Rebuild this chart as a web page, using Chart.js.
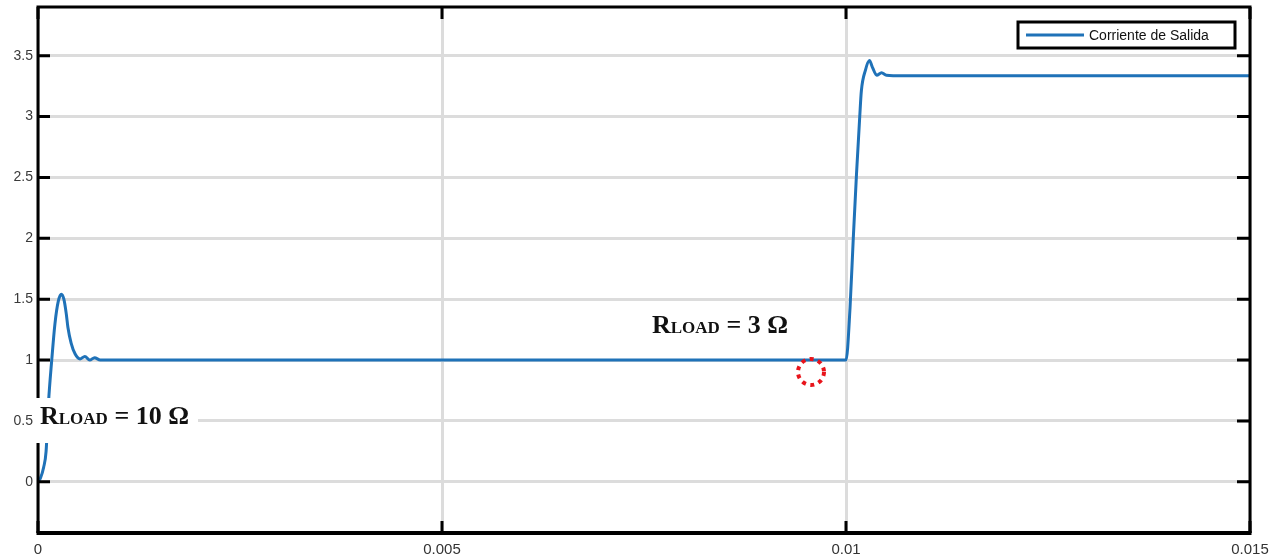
<!DOCTYPE html>
<html>
<head>
<meta charset="utf-8">
<script src="https://cdn.jsdelivr.net/npm/chart.js@4/dist/chart.umd.min.js"></script>
<style>
  html, body { margin: 0; padding: 0; background: #fff; }
  #wrap { width: 1280px; height: 559px; }
</style>
</head>
<body>
<div id="wrap"><canvas id="currentChart" width="1280" height="559"></canvas></div>
<script>
// time in ms
const timeMs = [0, 0.03, 0.07, 0.1, 0.13, 0.17, 0.21, 0.25, 0.29, 0.32, 0.35, 0.37, 0.41, 0.46, 0.52, 0.58, 0.64, 0.7, 0.77, 0.9, 2, 5, 8, 10.0,
                10.05, 10.09, 10.13, 10.17, 10.19, 10.24, 10.29, 10.33, 10.38, 10.44, 10.5, 10.7, 12, 15];
const current = [0, 0.03, 0.12, 0.25, 0.65, 1.0, 1.3, 1.48, 1.54, 1.5, 1.38, 1.27, 1.14, 1.05, 1.01, 1.03, 1.0, 1.02, 1.0, 1.0, 1.0, 1.0, 1.0, 1.0,
                 1.43, 2.0, 2.53, 3.0, 3.21, 3.38, 3.46, 3.4, 3.34, 3.36, 3.34, 3.335, 3.335, 3.335];
const xTicks = [0, 0.005, 0.01, 0.015];
const yTicks = [0, 0.5, 1, 1.5, 2, 2.5, 3, 3.5];
const seriesLabel = 'Corriente de Salida';

const lineBlue = '#1f72b8';

function drawLoadLabel(ctx, x, baseline, value) {
    ctx.fillStyle = '#111';
    ctx.textBaseline = 'alphabetic';
    ctx.textAlign = 'left';
    ctx.font = 'bold 26px "Liberation Serif", "DejaVu Serif", serif';
    ctx.fillText('R', x, baseline);
    let cx = x + ctx.measureText('R').width;
    ctx.font = 'bold 17px "Liberation Serif", "DejaVu Serif", serif';
    ctx.fillText('LOAD', cx, baseline);
    cx += ctx.measureText('LOAD').width;
    ctx.font = 'bold 26px "Liberation Serif", "DejaVu Serif", serif';
    ctx.fillText(' = ' + value + ' \u03A9', cx, baseline);
}

const framePlugin = {
    id: 'frame',
    afterDatasetsDraw(chart) {
        const { ctx, chartArea: a, scales } = chart;
        ctx.save();
        ctx.strokeStyle = '#000';

        // box
        ctx.lineWidth = 3;
        ctx.beginPath();
        ctx.moveTo(a.left - 1.5, a.top);
        ctx.lineTo(a.right, a.top);
        ctx.lineTo(a.right, a.bottom);
        ctx.moveTo(a.left, a.top);
        ctx.lineTo(a.left, a.bottom);
        ctx.stroke();
        ctx.lineWidth = 4;
        ctx.beginPath();
        ctx.moveTo(a.left - 1.5, a.bottom);
        ctx.lineTo(a.right + 1.5, a.bottom);
        ctx.stroke();

        // inner ticks
        ctx.lineWidth = 3;
        yTicks.forEach(v => {
            const y = scales.y.getPixelForValue(v);
            ctx.beginPath();
            ctx.moveTo(a.left, y);
            ctx.lineTo(a.left + 12, y);
            ctx.moveTo(a.right, y);
            ctx.lineTo(a.right - 13, y);
            ctx.stroke();
        });
        ctx.lineWidth = 3;
        xTicks.forEach(v => {
            const x = scales.x.getPixelForValue(v);
            ctx.beginPath();
            ctx.moveTo(x, a.bottom);
            ctx.lineTo(x, a.bottom - 12);
            ctx.moveTo(x, a.top);
            ctx.lineTo(x, a.top + 12);
            ctx.stroke();
        });

        // annotation boxes
        ctx.fillStyle = '#fff';
        ctx.fillRect(a.left - 2, 398, 162, 45);
        drawLoadLabel(ctx, 40, 424, '10');
        drawLoadLabel(ctx, 652, 333, '3');

        // red dotted circle
        ctx.strokeStyle = '#e8141b';
        ctx.lineWidth = 4;
        ctx.setLineDash([4, 4.5]);
        ctx.beginPath();
        ctx.arc(811, 372, 13, 0, Math.PI * 2);
        ctx.stroke();
        ctx.setLineDash([]);

        // legend
        ctx.fillStyle = '#fff';
        ctx.fillRect(1018, 22, 217, 26);
        ctx.strokeStyle = '#000';
        ctx.lineWidth = 3;
        ctx.strokeRect(1018, 22, 217, 26);
        ctx.strokeStyle = lineBlue;
        ctx.lineWidth = 3;
        ctx.beginPath();
        ctx.moveTo(1026, 35);
        ctx.lineTo(1084, 35);
        ctx.stroke();
        ctx.fillStyle = '#111';
        ctx.font = '14px "Liberation Sans", Arial, sans-serif';
        ctx.textBaseline = 'middle';
        ctx.fillText(seriesLabel, 1089, 36);
        ctx.restore();
    }
};

new Chart(document.getElementById('currentChart'), {
    type: 'line',
    data: {
        datasets: [{
            label: seriesLabel,
            data: timeMs.map((t, i) => ({ x: t / 1000, y: current[i] })),
            borderColor: lineBlue,
            borderWidth: 3,
            pointRadius: 0,
            cubicInterpolationMode: 'monotone',
            fill: false
        }]
    },
    options: {
        responsive: false,
        animation: false,
        layout: { padding: { top: 7, right: 30, left: 0, bottom: 0 } },
        plugins: { legend: { display: false }, tooltip: { enabled: false } },
        scales: {
            x: {
                type: 'linear',
                min: 0,
                max: 0.015,
                afterBuildTicks: s => { s.ticks = xTicks.map(v => ({ value: v })); },
                afterFit: s => { s.height = 26; s.paddingLeft = 0; s.paddingRight = 0; },
                grid: { color: '#dcdcdc', lineWidth: 3, drawTicks: false },
                border: { display: false },
                ticks: {
                    padding: 8,
                    maxRotation: 0,
                    color: '#333',
                    font: { family: '"Liberation Sans", Arial', size: 15 },
                    callback: v => String(v)
                }
            },
            y: {
                min: -0.42,
                max: 3.9,
                afterBuildTicks: s => { s.ticks = yTicks.map(v => ({ value: v })); },
                afterFit: s => { s.width = 38; s.paddingTop = 0; s.paddingBottom = 0; },
                grid: { color: '#dcdcdc', lineWidth: 3, drawTicks: false },
                border: { display: false },
                ticks: {
                    padding: 5,
                    color: '#3a3a3a',
                    font: { family: '"Liberation Sans", Arial', size: 14 },
                    callback: v => String(v)
                }
            }
        }
    },
    plugins: [framePlugin]
});
</script>
</body>
</html>
